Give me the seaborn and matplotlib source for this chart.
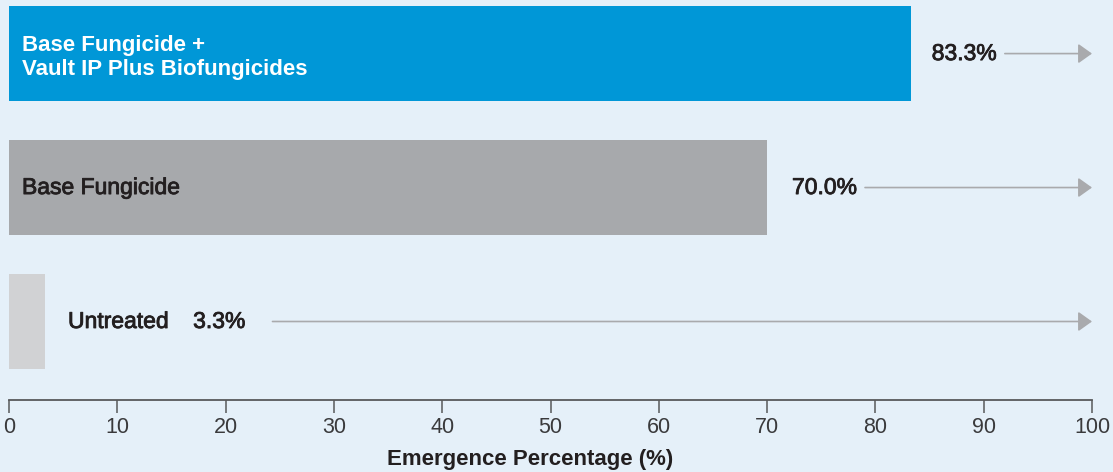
import matplotlib
matplotlib.use("Agg")
import matplotlib.pyplot as plt
import matplotlib.patheffects as pe
import seaborn as sns
import pandas as pd

# data
categories = ["Base Fungicide +\nVault IP Plus Biofungicides", "Base Fungicide", "Untreated"]
values = [83.3, 70.0, 3.3]
value_labels = ["83.3%", "70.0%", "3.3%"]
bar_colors = ["#0097d7", "#a7a9ac", "#d1d2d4"]
x_ticks = [0, 10, 20, 30, 40, 50, 60, 70, 80, 90, 100]

bg = "#e5f0f9"
arrow_col = "#a9aaad"
text_col = "#231f20"

sns.set_theme(style="white")
plt.rcParams["font.family"] = ["Liberation Sans", "DejaVu Sans"]

df = pd.DataFrame({"Treatment": categories, "Emergence": values})

fig = plt.figure(figsize=(11.13, 4.72), dpi=100, facecolor=bg)
ax = fig.add_axes([9 / 1113, 72 / 472, 1083 / 1113, 400 / 472])
ax.set_facecolor(bg)

sns.barplot(data=df, x="Emergence", y="Treatment", hue="Treatment",
            palette=bar_colors, orient="h", width=0.71, saturation=1,
            linewidth=0, legend=False, ax=ax)

ax.set_xlim(0, 100)
ax.set_ylim(2.586, -0.4)
ax.set_yticks([])
ax.set_ylabel("")
for s in ["top", "right", "left"]:
    ax.spines[s].set_visible(False)
ax.spines["bottom"].set_color("#58595b")
ax.spines["bottom"].set_linewidth(1.3)
ax.set_xticks(x_ticks)
ax.set_xticklabels([str(t) for t in x_ticks])
ax.tick_params(axis="x", direction="out", length=9, width=1.1, color="#58595b",
               pad=3, labelsize=15.5, labelcolor="#3a3a3c", bottom=True)
ax.set_xlabel("Emergence Percentage (%)", fontsize=16, fontweight="bold",
              color=text_col)
ax.xaxis.set_label_coords(0.481, -0.122)

# slightly heavier than regular, like the medium weight in the original
medium = [pe.withStroke(linewidth=0.6, foreground=text_col)]

ax.text(1.2, 0.03, categories[0], color="white", fontsize=16, fontweight="bold",
        va="center", ha="left", linespacing=1.2)
ax.text(1.2, 1, categories[1], color=text_col, fontsize=16.5, va="center",
        ha="left", path_effects=medium)
ax.text(5.45, 2, categories[2], color=text_col, fontsize=16.5, va="center",
        ha="left", path_effects=medium)

val_x = [85.2, 72.3, 17.0]
arrow_gap_px = [8, 8, 27]
texts = []
for i, (vx, lab) in enumerate(zip(val_x, value_labels)):
    t = ax.text(vx, i, lab, color=text_col, fontsize=16.5, va="center",
                ha="left", path_effects=medium)
    texts.append(t)

fig.canvas.draw()
renderer = fig.canvas.get_renderer()
inv = ax.transData.inverted()
for i, t in enumerate(texts):
    bb = t.get_window_extent(renderer)
    x_start = inv.transform((bb.x1 + arrow_gap_px[i], 0))[0]
    ax.annotate("", xy=(100, i), xytext=(x_start, i),
                arrowprops=dict(arrowstyle="-|>,head_length=0.42,head_width=0.3",
                                color=arrow_col, lw=1.2, mutation_scale=20,
                                shrinkA=0, shrinkB=0),
                annotation_clip=False)

fig.savefig("out.png", dpi=100, facecolor=bg)
